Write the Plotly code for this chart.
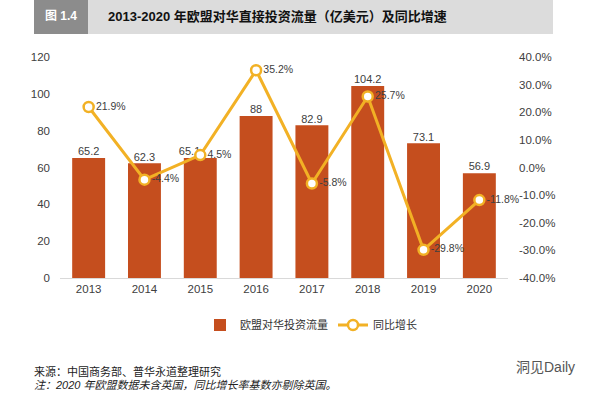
import plotly.graph_objects as go

years = ["2013", "2014", "2015", "2016", "2017", "2018", "2019", "2020"]
flows = [65.2, 62.3, 65.1, 88, 82.9, 104.2, 73.1, 56.9]
growth = [21.9, -4.4, 4.5, 35.2, -5.8, 25.7, -29.8, -11.8]
left_ticks = [0, 20, 40, 60, 80, 100, 120]
right_ticks = [-40, -30, -20, -10, 0, 10, 20, 30, 40]
right_tick_labels = [f"{v:.1f}%" for v in right_ticks]

BAR = "#C54E1E"
LINE = "#F2B125"
TXT = "#404040"
NARROW = "Liberation Sans Narrow, Arial Narrow, Liberation Sans, Noto Sans CJK SC"
FONT = "Liberation Sans, Arial, Noto Sans CJK SC"

# plot area in pixels
L, R, T, B = 60, 508, 57, 278
W, H = 597, 393
def px(x):
    return (x - L) / (R - L)
def py(y):
    return (B - y) / (B - T)

bar_label_pos = ["top center"] * len(years)
bar_label_pos[2] = "top left"

fig = go.Figure()
fig.add_trace(go.Bar(
    x=years, y=flows, name="欧盟对华投资流量",
    marker=dict(color=BAR, line=dict(width=0)),
    cliponaxis=False,
))
fig.add_trace(go.Scatter(
    x=years, y=flows, mode="text", showlegend=False, hoverinfo="skip",
    text=[str(v) for v in flows], textposition=bar_label_pos,
    textfont=dict(color=TXT, size=11, family=NARROW),
    cliponaxis=False,
))
fig.add_trace(go.Scatter(
    x=years, y=growth, name="同比增长", yaxis="y2",
    mode="lines+markers+text",
    line=dict(color=LINE, width=3),
    marker=dict(symbol="circle", size=10, color="white", line=dict(color=LINE, width=2.5)),
    text=[f"{v}%" for v in growth], textposition="middle right",
    textfont=dict(color=TXT, size=10.5, family=NARROW),
    cliponaxis=False,
))

shapes = [
    dict(type="rect", xref="paper", yref="paper", x0=px(34), x1=px(553), y0=py(34), y1=py(0),
         fillcolor="#DCDCDC", line=dict(width=0), layer="below"),
    dict(type="rect", xref="paper", yref="paper", x0=px(34), x1=px(88), y0=py(34), y1=py(0),
         fillcolor="#8C8C8C", line=dict(width=0), layer="below"),
]
annotations = [
    dict(text="<b>图 1.4</b>", x=px(61), y=py(16), xref="paper", yref="paper",
         xanchor="center", yanchor="middle", showarrow=False,
         font=dict(color="white", size=12, family=FONT)),
    dict(text="<b>2013-2020 年欧盟对华直接投资流量（亿美元）及同比增速</b>", x=px(106), y=py(16),
         xref="paper", yref="paper", xanchor="left", yanchor="middle", showarrow=False,
         font=dict(color="#111111", size=13, family=FONT)),
    dict(text="来源：中国商务部、普华永道整理研究", x=px(32), y=py(371), xref="paper", yref="paper",
         xanchor="left", yanchor="middle", showarrow=False,
         font=dict(color="#222222", size=11, family=FONT)),
    dict(text="<i>注：2020 年欧盟数据未含英国，同比增长率基数亦剔除英国。</i>", x=px(32), y=py(385),
         xref="paper", yref="paper", xanchor="left", yanchor="middle", showarrow=False,
         font=dict(color="#222222", size=11, family=FONT)),
    dict(text="洞见Daily", x=px(514), y=py(367), xref="paper", yref="paper",
         xanchor="left", yanchor="middle", showarrow=False,
         font=dict(color="#555555", size=14, family=FONT)),
]

fig.update_layout(
    width=W, height=H,
    margin=dict(l=L, r=W - R, t=T, b=H - B, pad=0),
    paper_bgcolor="white", plot_bgcolor="white",
    font=dict(family=FONT, color=TXT, size=11),
    bargap=0.41,
    showlegend=True,
    legend=dict(orientation="h", x=px(200), y=py(325), xanchor="left", yanchor="middle",
                font=dict(size=11, color="#333333", family=FONT), itemwidth=30,
                traceorder="normal", bgcolor="rgba(0,0,0,0)"),
    xaxis=dict(showgrid=False, showline=True, linecolor="#D9D9D9", linewidth=1,
               ticks="", tickfont=dict(size=11.5, color=TXT, family=NARROW), automargin=False),
    yaxis=dict(range=[0, 120], tickvals=left_ticks, showgrid=False, zeroline=False,
               showline=False, ticks="", ticklabelstandoff=9, automargin=False,
               tickfont=dict(size=11.5, color=TXT, family=NARROW)),
    yaxis2=dict(range=[-40, 40], tickvals=right_ticks, ticktext=right_tick_labels,
                overlaying="y", side="right", showgrid=False, zeroline=False,
                showline=False, ticks="", ticklabelstandoff=10, automargin=False,
                tickfont=dict(size=11.5, color=TXT, family=NARROW)),
    shapes=shapes, annotations=annotations,
)

fig.write_html("out.html", config={"displayModeBar": False},
               post_script="document.body.style.margin='0';document.body.style.padding='0';")
